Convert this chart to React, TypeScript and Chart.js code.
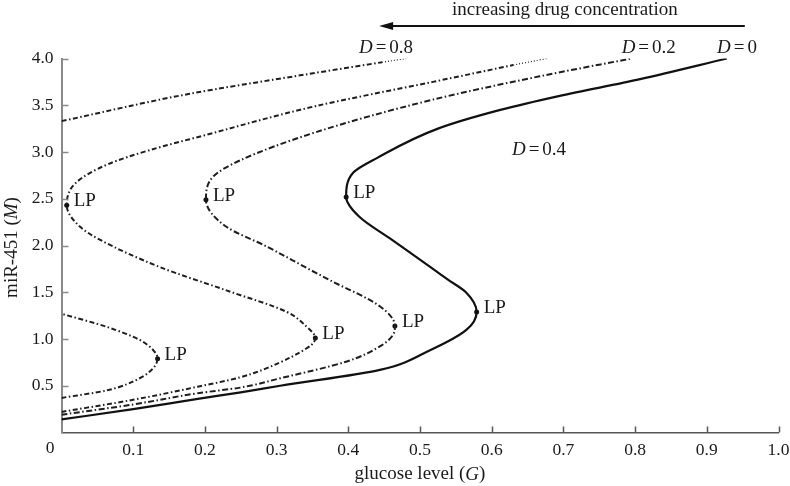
import React, { useEffect, useRef } from 'react';
import { Chart, registerables } from 'chart.js';

Chart.register(...registerables);

// ---- data (G = glucose level, M = miR-451) ----
const d0G = [0, 0.10, 0.19, 0.25, 0.305, 0.444, 0.514, 0.565, 0.579, 0.564, 0.538, 0.52, 0.461, 0.415, 0.397, 0.407, 0.441, 0.525, 0.612, 0.695, 0.807, 0.928];
const d0M = [0.14, 0.25, 0.36, 0.43, 0.50, 0.67, 0.88, 1.10, 1.29, 1.50, 1.64, 1.74, 2.06, 2.31, 2.52, 2.78, 2.94, 3.25, 3.45, 3.60, 3.78, 4.0];

const d02G = [0, 0.10, 0.19, 0.249, 0.305, 0.398, 0.444, 0.462, 0.465, 0.444, 0.374, 0.342, 0.286, 0.23, 0.2015, 0.212, 0.249, 0.354, 0.518, 0.667, 0.795];
const d02M = [0.19, 0.30, 0.42, 0.48, 0.58, 0.76, 0.92, 1.04, 1.14, 1.35, 1.63, 1.76, 1.99, 2.20, 2.49, 2.74, 2.91, 3.21, 3.56, 3.81, 4.0];

const d04G = [0, 0.10, 0.19, 0.249, 0.305, 0.333, 0.349, 0.354, 0.342, 0.314, 0.23, 0.137, 0.054, 0.026, 0.0073, 0.02, 0.065, 0.123, 0.20, 0.354, 0.518, 0.63];
const d04M = [0.22, 0.35, 0.49, 0.59, 0.75, 0.86, 0.94, 1.01, 1.13, 1.29, 1.52, 1.77, 2.06, 2.20, 2.43, 2.67, 2.87, 3.02, 3.18, 3.49, 3.75, 3.93];
const d04TailG = [0.63, 0.677];
const d04TailM = [3.93, 4.0];

const d08LowG = [0, 0.063, 0.109, 0.128, 0.134, 0.128, 0.109, 0.063, 0];
const d08LowM = [0.37, 0.45, 0.58, 0.69, 0.79, 0.88, 0.99, 1.13, 1.27];
const d08UpG = [0, 0.177, 0.333, 0.447];
const d08UpM = [3.33, 3.62, 3.82, 3.96];
const d08TailG = [0.447, 0.481];
const d08TailM = [3.96, 4.0];

const lpG = [0.579, 0.397, 0.465, 0.2015, 0.354, 0.0073, 0.134];
const lpM = [1.29, 2.52, 1.14, 2.49, 1.01, 2.43, 0.79];

const dLabelValue = ['0.8', '0.2', '0', '0.4'];
const dLabelG = [0.4526, 0.819, 0.942, 0.666];
const dLabelM = [4.11, 4.11, 4.11, 3.02];

const arrowText = 'increasing drug concentration';
const arrowFromG = 0.953;
const arrowToG = 0.443;
const arrowM = 4.348;
const arrowTextG = 0.702;
const arrowTextM = 4.52;

const xTitle = ['glucose level (', 'G', ')'];
const yTitle = ['miR-451 (', 'M', ')'];

const xTickValues = [0, 0.1, 0.2, 0.3, 0.4, 0.5, 0.6, 0.7, 0.8, 0.9, 1.0];
const yTickValues = [0, 0.5, 1.0, 1.5, 2.0, 2.5, 3.0, 3.5, 4.0];

const pts = (g: number[], m: number[]) => g.map((v, i) => ({ x: v, y: m[i] }));

const SERIF = '"Liberation Serif", "DejaVu Serif", serif';
const TXT = '#1a1a1a';
const TICK_SIZE = 17.5;
const TEXT_SIZE = 19;

function drawParts(ctx: CanvasRenderingContext2D, parts: string[], italicIdx: number[], size: number, x: number, y: number, gap = 0) {
  const fonts = parts.map((_, i) => (italicIdx.includes(i) ? 'italic ' : '') + size + 'px ' + SERIF);
  let total = 0;
  const widths = parts.map((p, i) => {
    ctx.font = fonts[i];
    const w = ctx.measureText(p).width;
    total += w;
    return w;
  });
  total += gap * (parts.length - 1);
  let cx = x - total / 2;
  ctx.textAlign = 'left';
  parts.forEach((p, i) => {
    ctx.font = fonts[i];
    ctx.fillText(p, cx, y);
    cx += widths[i] + gap;
  });
}

const annotations = {
  id: 'annotations',
  afterDraw(chart: any) {
    const ctx: CanvasRenderingContext2D = chart.ctx;
    const xs = chart.scales.x;
    const ys = chart.scales.y;
    const area = chart.chartArea;
    ctx.save();

    // inner tick marks
    ctx.lineWidth = 1.5;
    ctx.strokeStyle = '#555';
    xTickValues.forEach((v) => {
      if (v === 0) return;
      const px = Math.round(xs.getPixelForValue(v)) + 0.5;
      ctx.beginPath();
      ctx.moveTo(px, area.bottom);
      ctx.lineTo(px, area.bottom - 6);
      ctx.stroke();
    });
    ctx.strokeStyle = '#888';
    yTickValues.forEach((v) => {
      if (v === 0) return;
      const py = Math.round(ys.getPixelForValue(v)) + 0.5;
      ctx.beginPath();
      ctx.moveTo(area.left, py);
      ctx.lineTo(area.left + 7, py);
      ctx.stroke();
    });

    ctx.fillStyle = TXT;
    ctx.textBaseline = 'middle';

    // origin label
    ctx.font = TICK_SIZE + 'px ' + SERIF;
    ctx.textAlign = 'center';
    ctx.fillText('0', area.left - 11.5, area.bottom + 15.5);

    // LP labels
    ctx.font = TEXT_SIZE + 'px ' + SERIF;
    ctx.textAlign = 'left';
    lpG.forEach((g, i) => {
      const px = xs.getPixelForValue(g);
      const py = ys.getPixelForValue(lpM[i]);
      ctx.fillText('LP', px + 7, py - 4);
    });

    // D labels
    dLabelValue.forEach((val, i) => {
      drawParts(ctx, ['D', '=', val], [0], TEXT_SIZE, xs.getPixelForValue(dLabelG[i]), ys.getPixelForValue(dLabelM[i]), 3);
    });

    // arrow
    const ax1 = xs.getPixelForValue(arrowFromG);
    const ax2 = xs.getPixelForValue(arrowToG);
    const ay = ys.getPixelForValue(arrowM);
    ctx.strokeStyle = '#111';
    ctx.lineWidth = 2;
    ctx.beginPath();
    ctx.moveTo(ax1, ay);
    ctx.lineTo(ax2 + 10, ay);
    ctx.stroke();
    ctx.fillStyle = '#111';
    ctx.beginPath();
    ctx.moveTo(ax2, ay);
    ctx.lineTo(ax2 + 14, ay - 4);
    ctx.lineTo(ax2 + 14, ay + 4);
    ctx.closePath();
    ctx.fill();

    ctx.fillStyle = TXT;
    ctx.font = TEXT_SIZE + 'px ' + SERIF;
    ctx.textAlign = 'center';
    ctx.fillText(arrowText, xs.getPixelForValue(arrowTextG), ys.getPixelForValue(arrowTextM));

    // axis titles
    drawParts(ctx, xTitle, [1], TEXT_SIZE, (area.left + area.right) / 2, area.bottom + 42);
    ctx.save();
    ctx.translate(12, (area.top + area.bottom) / 2 + 2);
    ctx.rotate(-Math.PI / 2);
    drawParts(ctx, yTitle, [1], TEXT_SIZE, 0, 0);
    ctx.restore();

    ctx.restore();
  },
};

export default function App() {
  const ref = useRef<HTMLCanvasElement>(null);
  useEffect(() => {
    if (!ref.current) return;
    const dash = (label: string, g: number[], m: number[], pattern: number[], width = 2) => ({
      label,
      data: pts(g, m),
      showLine: true,
      borderColor: '#1e1e1e',
      borderWidth: width,
      borderDash: pattern,
      pointRadius: 0,
      cubicInterpolationMode: 'monotone',
      fill: false,
    });
    const chart = new Chart(ref.current, {
      type: 'scatter',
      data: {
        datasets: [
          { label: 'D=0', data: pts(d0G, d0M), showLine: true, borderColor: '#111', borderWidth: 2.2, pointRadius: 0, cubicInterpolationMode: 'monotone', fill: false } as any,
          dash('D=0.2', d02G, d02M, [6, 2.5, 1.5, 2.5]),
          dash('D=0.4', d04G, d04M, [5, 2.5, 1.5, 2.5]),
          dash('D=0.4 tail', d04TailG, d04TailM, [1, 2], 1.2),
          dash('D=0.8 low', d08LowG, d08LowM, [5, 2.5, 1.5, 2.5]),
          dash('D=0.8 up', d08UpG, d08UpM, [5, 2.5, 1.5, 2.5]),
          dash('D=0.8 tail', d08TailG, d08TailM, [1, 2], 1.2),
          { label: 'LP', data: pts(lpG, lpM), showLine: false, pointRadius: 2.5, pointBackgroundColor: '#111', pointBorderWidth: 0 } as any,
        ],
      },
      options: {
        animation: false,
        responsive: false,
        devicePixelRatio: 1,
        indexAxis: 'y',
        layout: { padding: { top: 58.5, right: 11.5, left: 0, bottom: 0 } },
        plugins: { legend: { display: false }, tooltip: { enabled: false } },
        scales: {
          x: {
            type: 'linear',
            position: 'bottom',
            min: 0,
            max: 1,
            afterBuildTicks: (s: any) => { s.ticks = xTickValues.map((v) => ({ value: v })); },
            afterFit: (s: any) => { s.height = 53.5; s.paddingLeft = 0; s.paddingRight = 0; },
            ticks: {
              autoSkip: false,
              maxRotation: 0,
              padding: 7,
              color: TXT,
              font: { family: SERIF, size: TICK_SIZE },
              callback: (v: any) => (Number(v) === 0 ? '' : Number(v).toFixed(1)),
            },
            grid: { display: false, drawTicks: false },
            border: { display: true, color: '#555', width: 1.5 },
          },
          y: {
            type: 'linear',
            position: 'left',
            min: 0,
            max: 4,
            afterBuildTicks: (s: any) => { s.ticks = yTickValues.map((v) => ({ value: v })); },
            afterFit: (s: any) => { s.width = 61.5; s.paddingTop = 0; s.paddingBottom = 0; },
            ticks: {
              autoSkip: false,
              padding: 8,
              color: TXT,
              font: { family: SERIF, size: TICK_SIZE },
              callback: (v: any) => (Number(v) === 0 ? '' : Number(v).toFixed(1)),
            },
            grid: { display: false, drawTicks: false },
            border: { display: true, color: '#888', width: 2 },
          },
        },
      },
      plugins: [annotations],
    } as any);
    return () => chart.destroy();
  }, []);
  return (
    <div style={{ position: 'fixed', left: 0, top: 0, width: 790, height: 486, background: '#fff' }}>
      <canvas ref={ref} width={790} height={486} style={{ width: 790, height: 486, display: 'block' }} />
    </div>
  );
}
